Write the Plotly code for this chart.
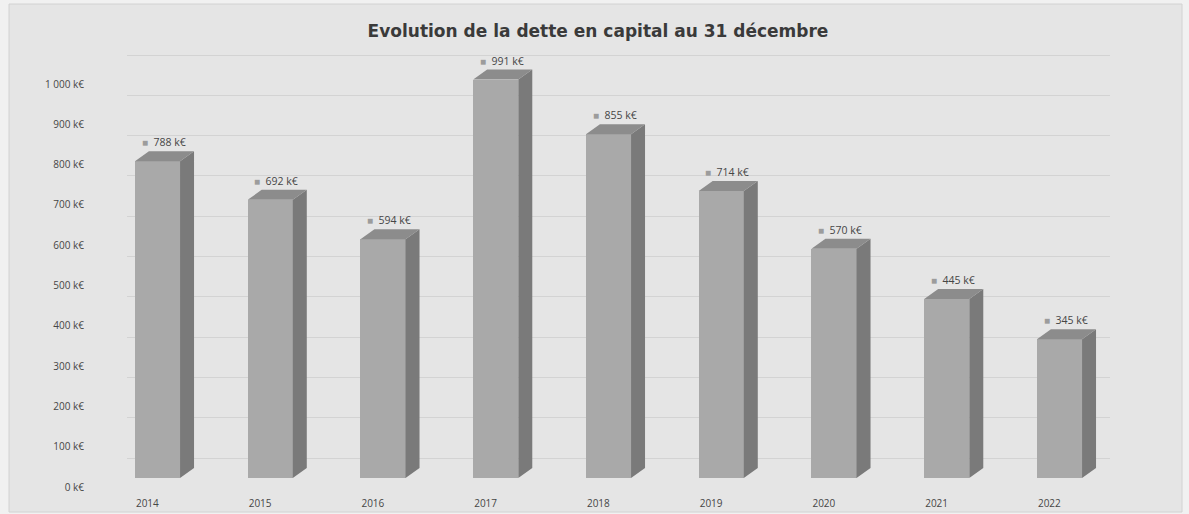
import plotly.graph_objects as go

# Encours de la dette en capital au 31 décembre (k€)
years = ["2014", "2015", "2016", "2017", "2018", "2019", "2020", "2021", "2022"]
debt_k = [788, 692, 594, 991, 855, 714, 570, 445, 345]
y_ticks = [0, 100, 200, 300, 400, 500, 600, 700, 800, 900, 1000]
y_tick_text = ["0 k€", "100 k€", "200 k€", "300 k€", "400 k€", "500 k€",
               "600 k€", "700 k€", "800 k€", "900 k€", "1 000 k€"]

FRONT = "#a9a9a9"
SIDE = "#7a7a7a"
TOP = "#8c8c8c"
TEXT = "#464646"

half_w = 0.2      # half width of the column front face (category units)
depth_x = 0.124   # oblique depth, horizontal (category units)
depth_y = 24.9    # oblique depth, vertical (value units)

xs = list(range(len(years)))

fig = go.Figure()

# gridline holder on the back-wall axis
fig.add_trace(go.Scatter(x=[xs[0]], y=[0], mode="markers", marker=dict(opacity=0),
                         hoverinfo="skip", showlegend=False, xaxis="x", yaxis="y"))

# front faces
fig.add_trace(go.Bar(x=xs, y=debt_k, width=2 * half_w, marker=dict(color=FRONT, line=dict(width=0)),
                     xaxis="x", yaxis="y2", showlegend=False, hoverinfo="skip"))

# side and top faces of each column
side_x, side_y, top_x, top_y = [], [], [], []
for i, v in zip(xs, debt_k):
    r = i + half_w
    side_x += [r, r + depth_x, r + depth_x, r, r, None]
    side_y += [0, depth_y, v + depth_y, v, 0, None]
    l = i - half_w
    top_x += [l, r, r + depth_x, l + depth_x, l, None]
    top_y += [v, v, v + depth_y, v + depth_y, v, None]

fig.add_trace(go.Scatter(x=side_x, y=side_y, mode="lines", fill="toself", fillcolor=SIDE,
                         line=dict(width=0, color=SIDE), xaxis="x", yaxis="y2",
                         showlegend=False, hoverinfo="skip"))
fig.add_trace(go.Scatter(x=top_x, y=top_y, mode="lines", fill="toself", fillcolor=TOP,
                         line=dict(width=0, color=TOP), xaxis="x", yaxis="y2",
                         showlegend=False, hoverinfo="skip"))

# value labels with their small legend key
for i, v in zip(xs, debt_k):
    fig.add_annotation(
        x=i, y=v, xref="x", yref="y2", xshift=6, yshift=19,
        text=f"<span style='color:#9c9c9c;font-size:10px'>■</span>&nbsp;&nbsp;{v} k€",
        showarrow=False, font=dict(family="Open Sans", size=10.5, color=TEXT),
        xanchor="center", yanchor="middle",
    )

L, R, T, B = 127, 1110, 40, 490
W, H = 1189, 514
pw, ph = R - L, B - T

# chart frame
fig.add_shape(type="rect", xref="paper", yref="paper", layer="below",
              x0=(9 - L) / pw, x1=(1182 - L) / pw, y0=(B - 512) / ph, y1=(B - 4) / ph,
              fillcolor="#e5e5e5", line=dict(color="#d2d2d2", width=1))

fig.update_layout(
    width=W, height=H,
    margin=dict(l=L, r=W - R, t=T, b=H - B, pad=0, autoexpand=False),
    paper_bgcolor="#f1f1f1",
    plot_bgcolor="rgba(0,0,0,0)",
    bargap=0,
    title=dict(text="<b>Evolution de la dette en capital au 31 décembre</b>",
               x=598 / W, xref="container", xanchor="center",
               y=1 - 31 / H, yref="container", yanchor="middle",
               font=dict(family="DejaVu Sans", size=17, color="#3a3a3a")),
    xaxis=dict(range=[(L - 157.5) / 112.75, (R - 157.5) / 112.75],
               tickvals=[i - 0.09 for i in xs], ticktext=years,
               showgrid=False, zeroline=False, showline=False, ticks="",
               ticklabelstandoff=6, automargin=False,
               tickfont=dict(family="Open Sans", size=10, color=TEXT)),
    # back-wall scale: gridlines and value axis labels
    yaxis=dict(range=[-(B - 458) / 0.403, (458 - T) / 0.403],
               tickvals=y_ticks, ticktext=y_tick_text,
               showgrid=True, gridcolor="#d3d3d3", gridwidth=1,
               zeroline=True, zerolinecolor="#d3d3d3", zerolinewidth=1,
               showline=False, ticks="", ticklabelshift=29, ticklabelstandoff=42,
               automargin=False,
               tickfont=dict(family="Open Sans", size=10, color=TEXT)),
    # front-face scale for the columns
    yaxis2=dict(range=[-(B - 478) / 0.402, (478 - T) / 0.402],
                overlaying="y", visible=False, showgrid=False, zeroline=False,
                automargin=False),
)

fig.write_html("out.html")
